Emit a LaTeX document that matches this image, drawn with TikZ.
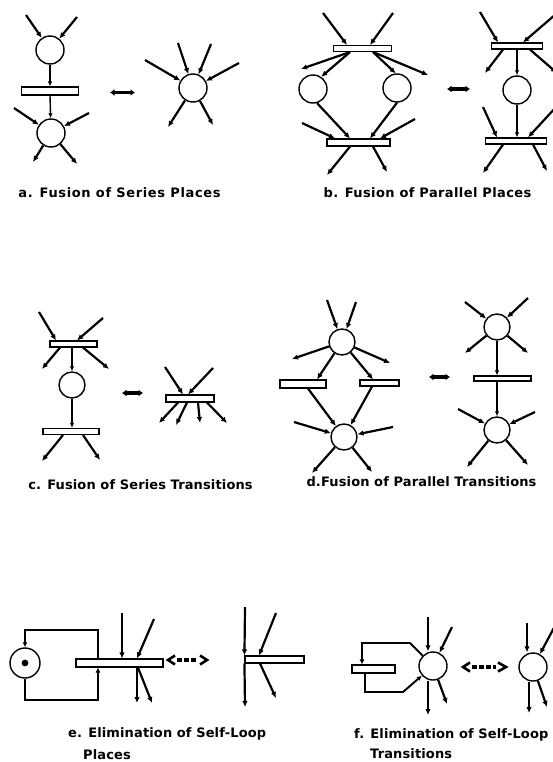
\documentclass[tikz,border=0pt]{standalone}
\usepackage{fontspec}
\newfontfamily\labfont{DejaVu Sans}[LetterSpace=5]
\newfontfamily\labfontm{DejaVu Sans}[LetterSpace=3]
\newfontfamily\labfontt{DejaVu Sans}[LetterSpace=1]
\usetikzlibrary{arrows.meta}
\begin{document}
\begin{tikzpicture}[x=1pt,y=-1pt,
 place/.style={circle,draw,line width=1.4pt,minimum size=28pt,inner sep=0pt},
 trans/.style={rectangle,draw,line width=1.1pt,inner sep=0pt,fill=white},
 arc/.style={line width=2.2pt,-{Latex[length=6pt,width=5.5pt]}},
 thinarc/.style={line width=1.4pt,-{Latex[length=5pt,width=4.5pt]}},
 loopline/.style={line width=1.9pt,-{Latex[length=5pt,width=5pt]}},
 lab/.style={font=\labfont\bfseries\fontsize{13}{15}\selectfont,inner sep=0pt},
 labm/.style={font=\labfontm\bfseries\fontsize{13}{15}\selectfont,inner sep=0pt},
 labt/.style={font=\labfontt\bfseries\fontsize{13}{15}\selectfont,inner sep=0pt},
 dbl/.style={line width=3.5pt,{Latex[length=4.5pt,width=7pt]}-{Latex[length=4.5pt,width=7pt]}},
 chev/.style={line width=2.6pt},
 dashline/.style={line width=3.4pt,dash pattern=on 4.5pt off 2.5pt}
]
\useasboundingbox (0,0) rectangle (553,762);

% ---------------- a ----------------
\node[place] (pa1) at (50,50) {};
\node[trans,minimum width=57pt,minimum height=8pt] (ta1) at (50,91) {};
\node[place] (pa2) at (51,133) {};
\node[place] (pa3) at (193,88) {};
\coordinate (a1) at (26,15); \coordinate (a2) at (77,17);
\coordinate (a3) at (14,108); \coordinate (a4) at (89,113);
\coordinate (a5) at (33,162); \coordinate (a6) at (77,164);
\coordinate (a7) at (145,60); \coordinate (a8) at (178,43);
\coordinate (a9) at (211,44); \coordinate (a10) at (239,63);
\coordinate (a11) at (168,127); \coordinate (a12) at (213,125);
\draw[arc] (a1) -- (pa1); \draw[arc] (a2) -- (pa1);
\draw[thinarc] (pa1) -- (ta1.north);
\draw[thinarc] (ta1.south) -- (pa2);
\draw[arc] (a3) -- (pa2); \draw[arc] (a4) -- (pa2);
\draw[arc] (pa2) -- (a5); \draw[arc] (pa2) -- (a6);
\draw[arc] (a7) -- (pa3); \draw[arc] (a8) -- (pa3);
\draw[arc] (a9) -- (pa3); \draw[arc] (a10) -- (pa3);
\draw[arc] (pa3) -- (a11); \draw[arc] (pa3) -- (a12);
\coordinate (da1) at (110,92.5); \coordinate (da2) at (135,92.5);
\draw[dbl] (da1) -- (da2);
\node[lab] (la) at (119.5,193) {a. Fusion of Series Places};

% ---------------- b ----------------
\node[trans,minimum width=58pt,minimum height=6pt] (tb1) at (362.5,48.5) {};
\node[place] (pb1) at (313,89) {};
\node[place] (pb2) at (397,88) {};
\node[trans,minimum width=63pt,minimum height=7pt] (tb2) at (358.5,142.5) {};
\coordinate (b1) at (323,13); \coordinate (b2) at (393,13);
\coordinate (b3) at (301,69); \coordinate (b4) at (428,75);
\coordinate (b5) at (302,123); \coordinate (b6) at (415,119);
\coordinate (b7) at (327,175); \coordinate (b8) at (387,172);
\draw[arc] (b1) -- ([xshift=-15.5pt]tb1.north);
\draw[arc] (b2) -- ([xshift=7.5pt]tb1.north);
\draw[arc] ([xshift=-12.5pt]tb1.south) -- (b3);
\draw[arc] ([xshift=-12.5pt]tb1.south) -- (pb1.56);
\draw[arc] ([xshift=10.5pt]tb1.south) -- (pb2.95);
\draw[arc] ([xshift=10.5pt]tb1.south) -- (b4);
\draw[arc] (pb1.-74) -- ([xshift=-8.5pt]tb2.north);
\draw[arc] (pb2.south) -- ([xshift=11.5pt]tb2.north);
\draw[arc] (b5) -- ([xshift=-23.5pt]tb2.north);
\draw[arc] (b6) -- ([xshift=21.5pt]tb2.north);
\draw[arc] ([xshift=-8.5pt]tb2.south) -- (b7);
\draw[arc] ([xshift=14.5pt]tb2.south) -- (b8);
\coordinate (db1) at (447,89); \coordinate (db2) at (470,89);
\draw[dbl] (db1) -- (db2);
% right
\node[trans,minimum width=51pt,minimum height=6pt] (tb3) at (517,46) {};
\node[place] (pb3) at (517,90) {};
\node[trans,minimum width=61pt,minimum height=6pt] (tb4) at (516,141) {};
\coordinate (b9) at (480,12); \coordinate (b10) at (556,14);
\coordinate (b11) at (485,73); \coordinate (b12) at (557,73);
\coordinate (b13) at (483,107); \coordinate (b14) at (557,106);
\coordinate (b15) at (483,173); \coordinate (b16) at (547,171);
\draw[arc] (b9) -- ([xshift=-19pt]tb3.north);
\draw[arc] (b10) -- ([xshift=6pt]tb3.north);
\draw[arc] ([xshift=-14pt]tb3.south) -- (b11);
\draw[arc] ([xshift=13pt]tb3.south) -- (b12);
\draw[thinarc] (tb3.south -| pb3) -- (pb3);
\draw[thinarc] (pb3) -- (pb3 |- tb4.north);
\draw[arc] (b13) -- ([xshift=-19pt]tb4.north);
\draw[arc] (b14) -- ([xshift=12pt]tb4.north);
\draw[arc] ([xshift=-13pt]tb4.south) -- (b15);
\draw[arc] ([xshift=17pt]tb4.south) -- (b16);
\node[labm] (lb) at (427.5,193) {b. Fusion of Parallel Places};

% ---------------- c ----------------
\node[trans,minimum width=47pt,minimum height=6pt] (tc1) at (73.5,344) {};
\node[place,minimum size=26pt] (pc1) at (72,385) {};
\node[trans,minimum width=56pt,minimum height=6pt] (tc2) at (71,431.5) {};
\coordinate (c1) at (39,312); \coordinate (c2) at (103,318);
\coordinate (c3) at (42,369); \coordinate (c4) at (109,369);
\coordinate (c5) at (42,461); \coordinate (c6) at (100,460);
\draw[arc] (c1) -- ([xshift=-17.5pt]tc1.north);
\draw[arc] (c2) -- ([xshift=3.5pt]tc1.north);
\draw[arc] ([xshift=-13.5pt]tc1.south) -- (c3);
\draw[arc] ([xshift=9.5pt]tc1.south) -- (c4);
\draw[thinarc] (tc1.south -| pc1) -- (pc1);
\draw[thinarc] (pc1) -- (pc1 |- tc2.north);
\draw[arc] ([xshift=-8pt]tc2.south) -- (c5);
\draw[arc] ([xshift=12pt]tc2.south) -- (c6);
\coordinate (dc1) at (122,393); \coordinate (dc2) at (143,393);
\draw[dbl] (dc1) -- (dc2);
\node[trans,minimum width=48pt,minimum height=7pt] (tc3) at (190,398.5) {};
\coordinate (c7) at (165,367); \coordinate (c8) at (213,368);
\coordinate (c9) at (159,423); \coordinate (c10) at (176,425);
\coordinate (c11) at (200,423); \coordinate (c12) at (227,423);
\draw[arc] (c7) -- ([xshift=-7pt]tc3.north);
\draw[arc] (c8) -- ([xshift=-2pt]tc3.north);
\draw[arc] ([xshift=-12pt]tc3.south) -- (c9);
\draw[arc] ([xshift=-3pt]tc3.south) -- (c10);
\draw[arc] ([xshift=8pt]tc3.south) -- (c11);
\draw[arc] ([xshift=17pt]tc3.south) -- (c12);
\node[labt] (lc) at (140.5,485) {c. Fusion of Series Transitions};

% ---------------- d ----------------
\node[place,minimum size=26pt] (pd1) at (342,342) {};
\node[trans,minimum width=46pt,minimum height=8pt] (td1) at (303,384) {};
\node[trans,minimum width=39pt,minimum height=6pt] (td2) at (379.5,383) {};
\node[place,minimum size=26pt] (pd2) at (344,437) {};
\coordinate (d1) at (327,300); \coordinate (d2) at (356,302);
\coordinate (d3) at (292,359); \coordinate (d4) at (390,363);
\coordinate (d5) at (294,422); \coordinate (d6) at (393,427);
\coordinate (d7) at (312,473); \coordinate (d8) at (372,472);
\draw[arc] (d1) -- (pd1); \draw[arc] (d2) -- (pd1);
\draw[arc] (pd1) -- (d3); \draw[arc] (pd1) -- (d4);
\draw[arc] (pd1) -- ([xshift=14pt]td1.north);
\draw[arc] (pd1) -- ([xshift=-6.5pt]td2.north);
\draw[arc] ([xshift=5pt]td1.south) -- (pd2);
\draw[arc] ([xshift=-7.5pt]td2.south) -- (pd2);
\draw[arc] (d5) -- (pd2); \draw[arc] (d6) -- (pd2);
\draw[arc] (pd2) -- (d7); \draw[arc] (pd2) -- (d8);
\coordinate (dd1) at (429,377); \coordinate (dd2) at (450,377);
\draw[dbl] (dd1) -- (dd2);
\node[place,minimum size=26pt] (pd3) at (497,327) {};
\node[trans,minimum width=57pt,minimum height=5pt] (td3) at (502.5,378.5) {};
\node[place,minimum size=26pt] (pd4) at (497,430) {};
\coordinate (d9) at (465,302); \coordinate (d10) at (528,298);
\coordinate (d11) at (465,353); \coordinate (d12) at (528,353);
\coordinate (d13) at (458,409); \coordinate (d14) at (535,412);
\coordinate (d15) at (467,467); \coordinate (d16) at (528,465);
\draw[arc] (d9) -- (pd3); \draw[arc] (d10) -- (pd3);
\draw[arc] (pd3) -- (d11); \draw[arc] (pd3) -- (d12);
\draw[thinarc] (pd3) -- (pd3 |- td3.north);
\draw[thinarc] (pd3 |- td3.south) -- (pd4);
\draw[arc] (d13) -- (pd4); \draw[arc] (d14) -- (pd4);
\draw[arc] (pd4) -- (d15); \draw[arc] (pd4) -- (d16);
\node[labt] (ld) at (421.5,482) {d.Fusion of Parallel Transitions};

% ---------------- e ----------------
\node[place,minimum size=30pt] (pe1) at (25,663) {};
\fill (pe1.center) circle (3.4pt);
\node[trans,minimum width=87pt,minimum height=8pt] (te1) at (119.5,663) {};
\coordinate (e1) at (98,630); \coordinate (e2) at (98,700);
\draw[loopline] (te1.north -| e1) -- (e1) -| (pe1.north);
\draw[loopline] (pe1.south) |- (e2) -- (te1.south -| e2);
\coordinate (e3) at (122,613); \coordinate (e4) at (154,619);
\coordinate (e5) at (137,703); \coordinate (e6) at (152,703);
\draw[arc] (e3) -- (te1.north -| e3);
\draw[arc] (e4) -- ([xshift=17.5pt]te1.north);
\draw[arc] ([xshift=17.5pt]te1.south) -- (e5);
\draw[arc] ([xshift=18.5pt]te1.south) -- (e6);
\draw[chev] (175,655.5) -- (168,660) -- (175,664.5);
\draw[dashline] (177,660) -- (197,660);
\draw[chev] (200,655.5) -- (207,660) -- (200,664.5);
\node[trans,minimum width=59pt,minimum height=7pt] (te2) at (274.5,659.5) {};
\coordinate (e7) at (245,607); \coordinate (e8) at (245,707);
\coordinate (e9) at (276,613); \coordinate (e10) at (276,698);
\draw[arc] (e7) -- (te2.north west);
\draw[arc] (te2.south west) -- (e8);
\draw[arc] (e9) -- ([xshift=-15.5pt]te2.north);
\draw[arc] ([xshift=-14.5pt]te2.south) -- (e10);
\node[labt,anchor=west] (le1) at (68,734) {e. Elimination of Self-Loop};
\node[labt,anchor=west] (le2) at (83,755) {Places};

% ---------------- f ----------------
\node[trans,minimum width=43pt,minimum height=8pt] (tf1) at (373.5,669) {};
\node[place] (pf1) at (433,666) {};
\coordinate (f1) at (410,643); \coordinate (f2) at (403,692);
\draw[loopline] (pf1) -- (f1) -| ([xshift=-11.5pt]tf1.north);
\draw[loopline] ([xshift=-8.5pt]tf1.south) |- (f2) -- (pf1);
\coordinate (f3) at (428,617); \coordinate (f4) at (452,627);
\coordinate (f5) at (428,715); \coordinate (f6) at (447,704);
\draw[arc] (f3) -- (f3 |- pf1.north);
\draw[arc] (f4) -- (pf1);
\draw[arc] (f5 |- pf1.south) -- (f5);
\draw[arc] (pf1) -- (f6);
\draw[chev] (470,662.5) -- (463,667) -- (470,671.5);
\draw[dashline] (472,667) -- (496,667);
\draw[chev] (498,662.5) -- (506,667) -- (498,671.5);
\node[place] (pf2) at (533,667) {};
\coordinate (f7) at (527,623); \coordinate (f8) at (556,624);
\coordinate (f9) at (529,713); \coordinate (f10) at (547,707);
\draw[arc] (f7) -- (f7 |- pf2.north);
\draw[arc] (f8) -- (pf2);
\draw[arc] (f9 |- pf2.south) -- (f9);
\draw[arc] (pf2) -- (f10);
\node[labt,anchor=west] (lf1) at (354,735) {f. Elimination of Self-Loop};
\node[labt,anchor=west] (lf2) at (370,754) {Transitions};
\end{tikzpicture}
\end{document}
